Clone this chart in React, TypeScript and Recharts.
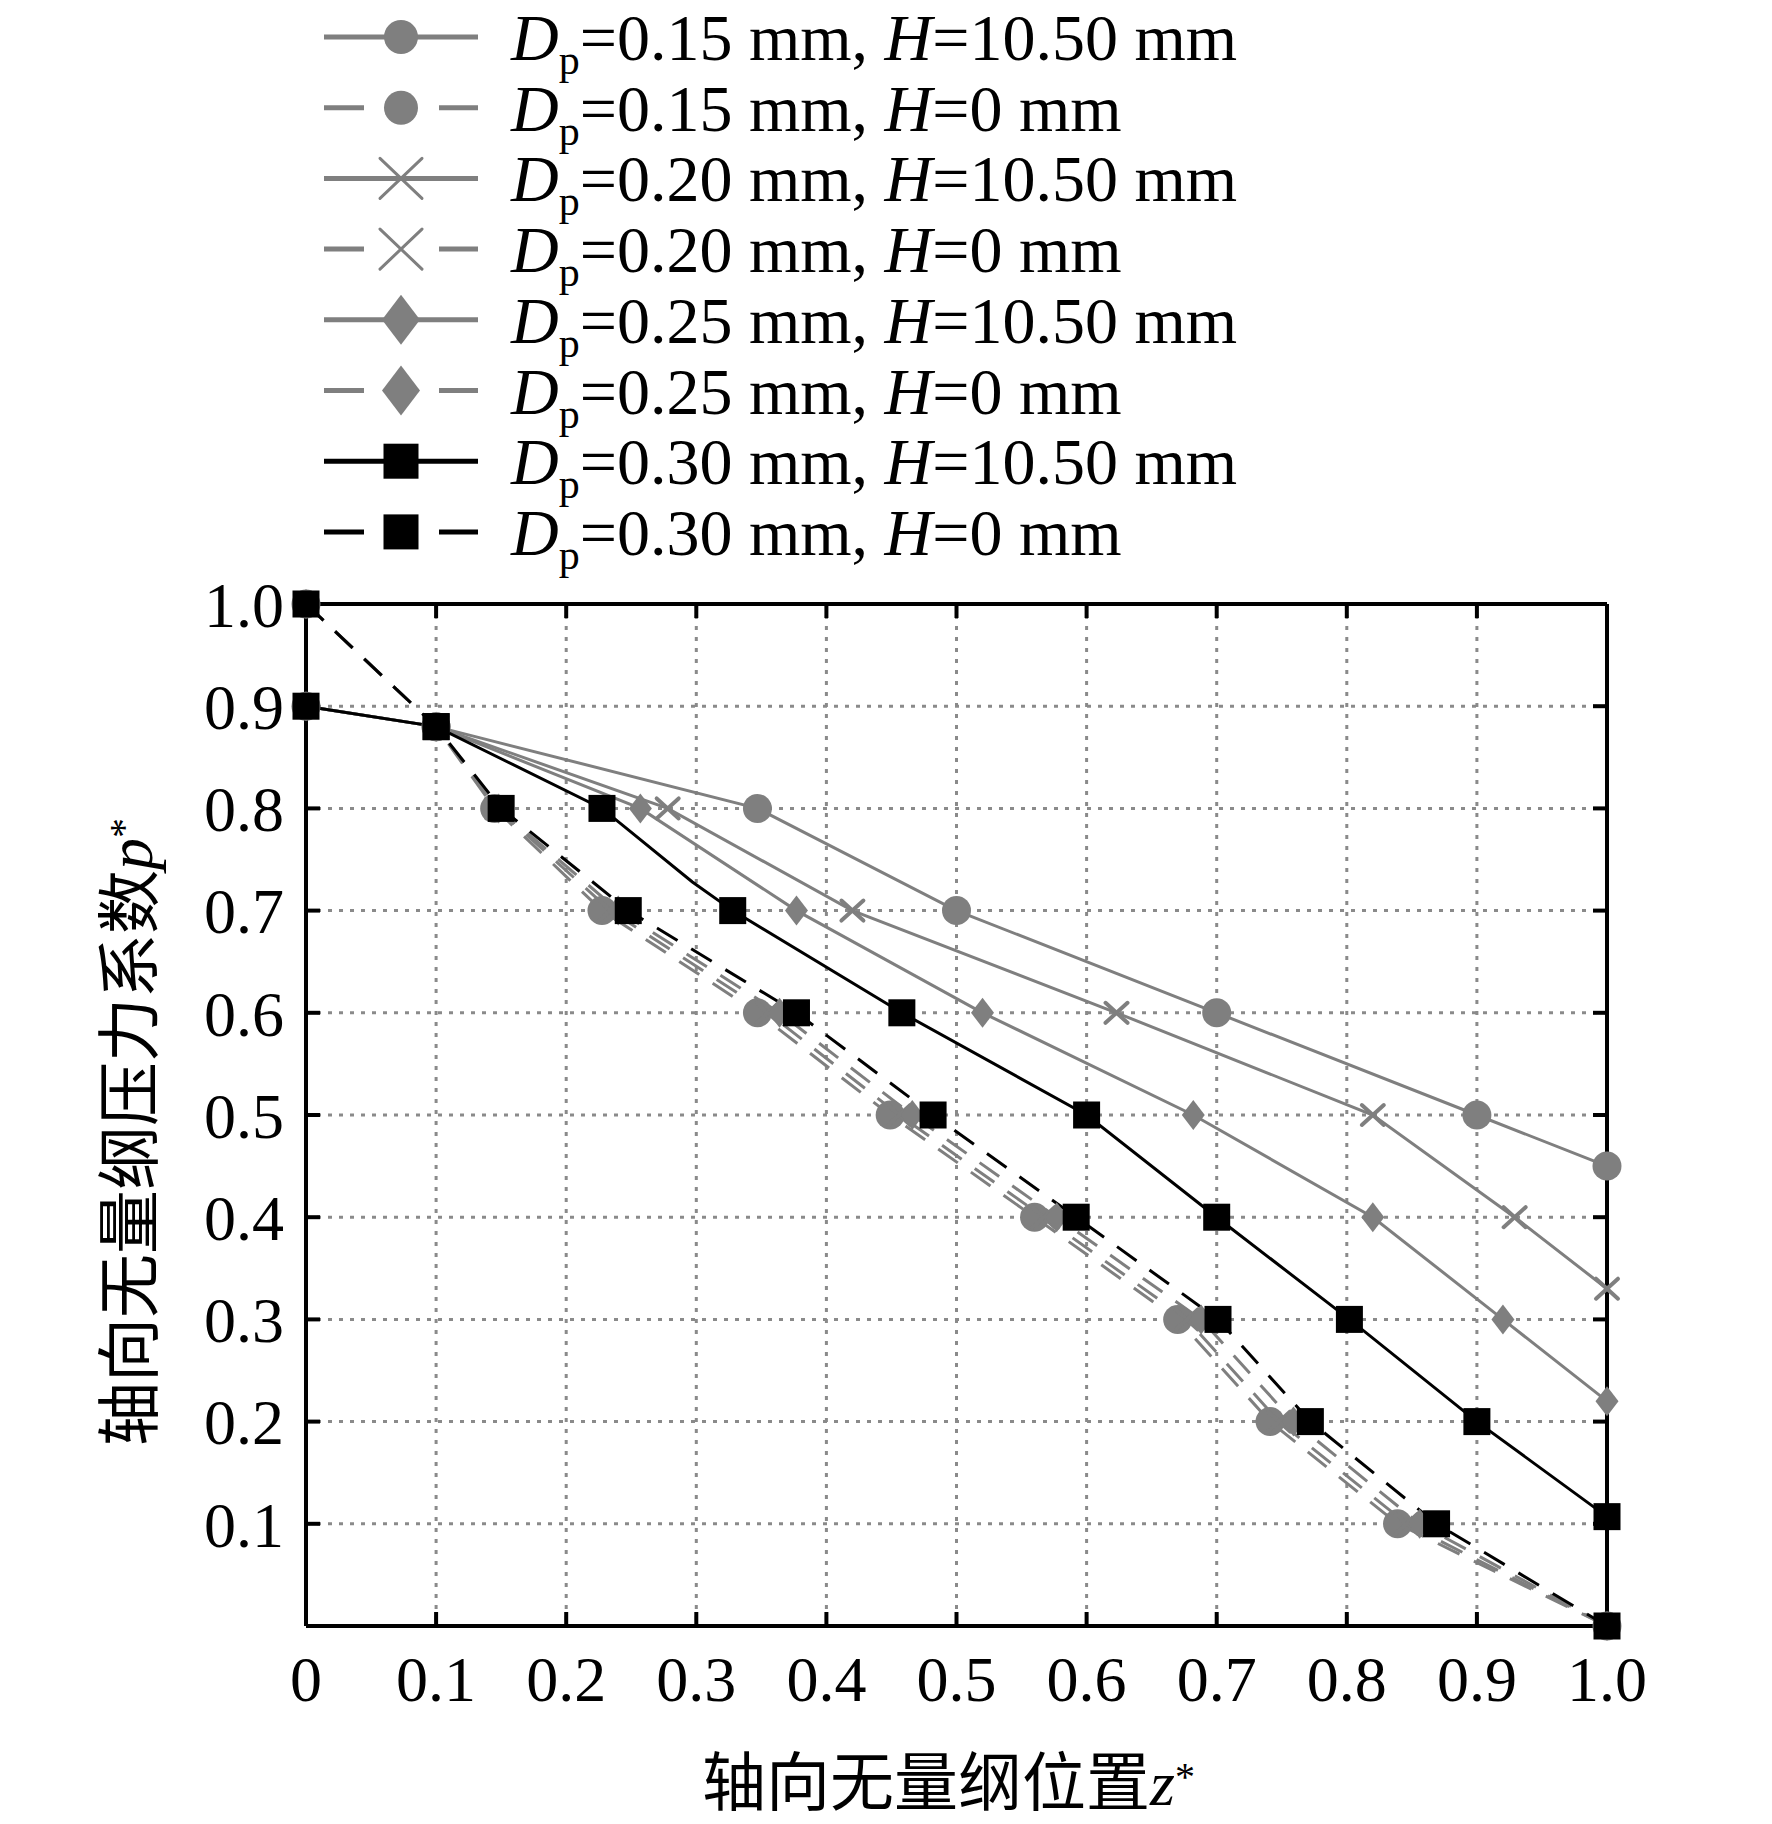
import React from 'react';
import { ComposedChart, Line, Scatter, XAxis, YAxis, CartesianGrid, Legend, Label } from 'recharts';

const W = 1772;
const H = 1824;
const GRAY = '#7f7f7f';
const BLACK = '#000000';
const SERIF = '"Liberation Serif", "Times New Roman", serif';
const CJK = '"Noto Sans CJK SC", "Noto Sans CJK JP", sans-serif';

// axis ticks
const zTicks = [0, 0.1, 0.2, 0.3, 0.4, 0.5, 0.6, 0.7, 0.8, 0.9, 1.0];
const zTickLabels = ['0', '0.1', '0.2', '0.3', '0.4', '0.5', '0.6', '0.7', '0.8', '0.9', '1.0'];
const pTicks = [0.1, 0.2, 0.3, 0.4, 0.5, 0.6, 0.7, 0.8, 0.9, 1.0];
const pTickLabels = ['0.1', '0.2', '0.3', '0.4', '0.5', '0.6', '0.7', '0.8', '0.9', '1.0'];

// Dp = 0.15 mm, H = 10.50 mm
const z015H = [0, 0.1, 0.347, 0.5, 0.7, 0.9, 1.0];
const p015H = [0.9, 0.88, 0.8, 0.7, 0.6, 0.5, 0.45];
// Dp = 0.15 mm, H = 0 mm
const z015N = [0, 0.1, 0.145, 0.2275, 0.347, 0.449, 0.56, 0.67, 0.741, 0.839, 1.0];
const p015N = [1.0, 0.88, 0.8, 0.7, 0.6, 0.5, 0.4, 0.3, 0.2, 0.1, 0];
// Dp = 0.20 mm, H = 10.50 mm
const z020H = [0, 0.1, 0.278, 0.42, 0.623, 0.82, 0.929, 1.0];
const p020H = [0.9, 0.88, 0.8, 0.7, 0.6, 0.5, 0.4, 0.33];
// Dp = 0.20 mm, H = 0 mm
const z020N = [0, 0.1, 0.147, 0.234, 0.355, 0.456, 0.567, 0.677, 0.748, 0.846, 1.0];
const p020N = [1.0, 0.88, 0.8, 0.7, 0.6, 0.5, 0.4, 0.3, 0.2, 0.1, 0];
// Dp = 0.25 mm, H = 10.50 mm
const z025H = [0, 0.1, 0.257, 0.377, 0.52, 0.682, 0.82, 0.92, 1.0];
const p025H = [0.9, 0.88, 0.8, 0.7, 0.6, 0.5, 0.4, 0.3, 0.22];
// Dp = 0.25 mm, H = 0 mm
const z025N = [0, 0.1, 0.148, 0.24, 0.364, 0.466, 0.577, 0.688, 0.759, 0.856, 1.0];
const p025N = [1.0, 0.88, 0.8, 0.7, 0.6, 0.5, 0.4, 0.3, 0.2, 0.1, 0];
// Dp = 0.30 mm, H = 10.50 mm (curve vertices, markers)
const z030HLine = [0, 0.1, 0.2275, 0.297, 0.328, 0.458, 0.6, 0.7, 0.802, 0.9, 1.0];
const p030HLine = [0.9, 0.88, 0.8, 0.728, 0.7, 0.6, 0.5, 0.4, 0.3, 0.2, 0.107];
const z030HMark = [0, 0.1, 0.2275, 0.328, 0.458, 0.6, 0.7, 0.802, 0.9, 1.0];
const p030HMark = [0.9, 0.88, 0.8, 0.7, 0.6, 0.5, 0.4, 0.3, 0.2, 0.107];
// Dp = 0.30 mm, H = 0 mm
const z030N = [0, 0.1, 0.15, 0.2477, 0.377, 0.482, 0.592, 0.701, 0.772, 0.869, 1.0];
const p030N = [1.0, 0.88, 0.8, 0.7, 0.6, 0.5, 0.4, 0.3, 0.2, 0.1, 0];

const dpLabels = ['0.15', '0.15', '0.20', '0.20', '0.25', '0.25', '0.30', '0.30'];
const hLabels = ['10.50', '0', '10.50', '0', '10.50', '0', '10.50', '0'];

type Kind = 'circle' | 'cross' | 'diamond' | 'square';

const pts = (z: number[], p: number[]) => z.map((v, i) => ({ z: v, p: p[i] }));

const series = [
  { id: 's1', kind: 'circle' as Kind, color: GRAY, dashed: false, line: pts(z015H, p015H), mark: pts(z015H, p015H) },
  { id: 's2', kind: 'circle' as Kind, color: GRAY, dashed: true, line: pts(z015N, p015N), mark: pts(z015N, p015N) },
  { id: 's3', kind: 'cross' as Kind, color: GRAY, dashed: false, line: pts(z020H, p020H), mark: pts(z020H, p020H) },
  { id: 's4', kind: 'cross' as Kind, color: GRAY, dashed: true, line: pts(z020N, p020N), mark: pts(z020N, p020N) },
  { id: 's5', kind: 'diamond' as Kind, color: GRAY, dashed: false, line: pts(z025H, p025H), mark: pts(z025H, p025H) },
  { id: 's6', kind: 'diamond' as Kind, color: GRAY, dashed: true, line: pts(z025N, p025N), mark: pts(z025N, p025N) },
  { id: 's7', kind: 'square' as Kind, color: BLACK, dashed: false, line: pts(z030HLine, p030HLine), mark: pts(z030HMark, p030HMark) },
  { id: 's8', kind: 'square' as Kind, color: BLACK, dashed: true, line: pts(z030N, p030N), mark: pts(z030N, p030N) },
];

function Marker({ kind, cx, cy, color, legend }: { kind: Kind; cx: number; cy: number; color: string; legend?: boolean }) {
  if (cx == null || cy == null || isNaN(cx) || isNaN(cy)) return <g />;
  if (kind === 'circle') {
    return <circle cx={cx} cy={cy} r={legend ? 17 : 14.5} fill={color} />;
  }
  if (kind === 'cross') {
    const sx = legend ? 21 : 11;
    const sy = legend ? 20 : 10;
    return (
      <g stroke={color} strokeWidth={legend ? 3 : 4} strokeLinecap="round">
        <line x1={cx - sx} y1={cy - sy} x2={cx + sx} y2={cy + sy} />
        <line x1={cx - sx} y1={cy + sy} x2={cx + sx} y2={cy - sy} />
      </g>
    );
  }
  if (kind === 'diamond') {
    const hw = legend ? 19 : 11.5;
    const hh = legend ? 25 : 15;
    return <polygon points={`${cx},${cy - hh} ${cx + hw},${cy} ${cx},${cy + hh} ${cx - hw},${cy}`} fill={color} />;
  }
  const s = legend ? 35 : 27;
  return <rect x={cx - s / 2} y={cy - s / 2} width={s} height={s} fill={color} />;
}

const renderLegend = () => (
  <svg width={1300} height={580} style={{ display: 'block' }}>
    {series.map((s, i) => {
      const y = 37 + i * 70.7;
      return (
        <g key={s.id}>
          {s.dashed ? (
            <g stroke={s.color} strokeWidth={5}>
              <line x1={324} x2={364} y1={y} y2={y} />
              <line x1={439} x2={478} y1={y} y2={y} />
            </g>
          ) : (
            <line x1={324} x2={478} y1={y} y2={y} stroke={s.color} strokeWidth={5} />
          )}
          <Marker kind={s.kind} cx={401} cy={y} color={s.color} legend />
          <text x={511} y={y + 23} fontFamily={SERIF} fontSize={66} fill="#000">
            <tspan fontStyle="italic">D</tspan>
            <tspan fontSize={42} dy={14}>p</tspan>
            <tspan dy={-14}>{`=${dpLabels[i]} mm, `}</tspan>
            <tspan fontStyle="italic">H</tspan>
            <tspan>{`=${hLabels[i]} mm`}</tspan>
          </text>
        </g>
      );
    })}
  </svg>
);

const tickStyle = { fontSize: 64, fill: '#000', fontFamily: SERIF };
const frame = { stroke: '#000', strokeWidth: 4 };

export default function App() {
  return (
    <div style={{ position: 'absolute', left: 0, top: 0, width: W, height: H, background: '#ffffff' }}>
      <ComposedChart width={W} height={H} margin={{ top: 603, right: 164, bottom: 0, left: 156 }}>
        <CartesianGrid stroke="#8a8a8a" strokeWidth={3} strokeDasharray="4 7" />
        <XAxis
          xAxisId={0}
          dataKey="z"
          type="number"
          domain={[0, 1]}
          ticks={zTicks}
          interval={0}
          height={198}
          tickSize={-14}
          tickMargin={44}
          tickFormatter={(v: number) => zTickLabels[zTicks.indexOf(v)] ?? String(v)}
          tick={tickStyle}
          axisLine={frame}
          tickLine={frame}
        >
          <Label
            content={(props: any) => {
              const vb = props.viewBox || { x: 306, y: 1626, width: 1301, height: 198 };
              return (
                <text x={vb.x + vb.width / 2 - 8} y={vb.y + 179} textAnchor="middle" fontFamily={CJK} fontSize={64} fill="#000">
                  轴向无量纲位置
                  <tspan fontFamily={SERIF} fontStyle="italic">z</tspan>
                  <tspan fontFamily={SERIF} fontSize={40} dy={-15}>*</tspan>
                </text>
              );
            }}
          />
        </XAxis>
        <XAxis
          xAxisId="top"
          dataKey="z"
          orientation="top"
          type="number"
          domain={[0, 1]}
          ticks={zTicks}
          interval={0}
          height={1}
          tickSize={-14}
          tick={() => <g />}
          axisLine={frame}
          tickLine={frame}
        />
        <YAxis
          yAxisId={0}
          dataKey="p"
          type="number"
          domain={[0, 1]}
          ticks={pTicks}
          interval={0}
          width={150}
          tickSize={-14}
          tickMargin={36}
          tickFormatter={(v: number) => pTickLabels[pTicks.indexOf(v)] ?? String(v)}
          tick={tickStyle}
          axisLine={frame}
          tickLine={frame}
        >
          <Label
            content={(props: any) => {
              const vb = props.viewBox || { x: 156, y: 604, width: 150, height: 1022 };
              const bx = vb.x - 4;
              const cy = vb.y + vb.height / 2 + 17;
              return (
                <text x={bx} y={cy} transform={`rotate(-90 ${bx} ${cy})`} textAnchor="middle" fontFamily={CJK} fontSize={64} fill="#000">
                  轴向无量纲压力系数
                  <tspan fontFamily={SERIF} fontStyle="italic">p</tspan>
                  <tspan fontFamily={SERIF} fontSize={40} dy={-15}>*</tspan>
                </text>
              );
            }}
          />
        </YAxis>
        <YAxis
          yAxisId="right"
          dataKey="p"
          orientation="right"
          type="number"
          domain={[0, 1]}
          ticks={pTicks}
          interval={0}
          width={1}
          tickSize={-14}
          tick={() => <g />}
          axisLine={frame}
          tickLine={frame}
        />
        <Legend
          content={renderLegend}
          layout="vertical"
          align="center"
          verticalAlign="middle"
          wrapperStyle={{ left: 0, top: 0, width: 1300, height: 580 }}
        />
        {/* invisible copy bound to the mirrored frame axes so they are drawn */}
        <Line
          xAxisId="top"
          yAxisId="right"
          data={series[0].line}
          dataKey="p"
          stroke="none"
          dot={false}
          activeDot={false}
          legendType="none"
          isAnimationActive={false}
        />
        {series.map((s) => (
          <Line
            key={`line-${s.id}`}
            data={s.line}
            dataKey="p"
            type="linear"
            stroke={s.color}
            strokeWidth={3}
            strokeDasharray={s.dashed ? '24 16' : undefined}
            dot={false}
            activeDot={false}
            legendType="none"
            isAnimationActive={false}
          />
        ))}
        {series.map((s) => (
          <Scatter
            key={`mark-${s.id}`}
            data={s.mark}
            dataKey="p"
            legendType="none"
            isAnimationActive={false}
            shape={(props: any) => <Marker kind={s.kind} cx={props.cx} cy={props.cy} color={s.color} />}
          />
        ))}
      </ComposedChart>
    </div>
  );
}
